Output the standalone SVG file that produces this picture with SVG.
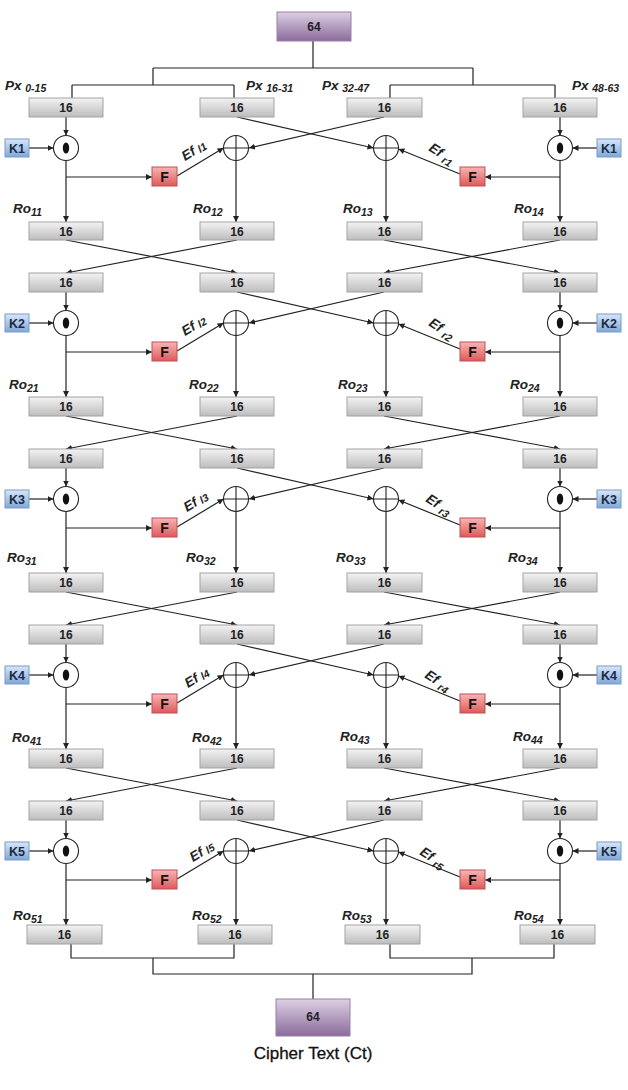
<svg xmlns="http://www.w3.org/2000/svg" width="628" height="1090" viewBox="0 0 628 1090">
<style>
.b16{fill:url(#g16);stroke:#a3a3a3;stroke-width:1}
.bp{fill:url(#gP);stroke:#9a80a8;stroke-width:1}
.bk{fill:url(#gK);stroke:#7a9cc8;stroke-width:1}
.bf{fill:url(#gF);stroke:#c05050;stroke-width:1}
.t16{font-family:"Liberation Sans",Arial,sans-serif;font-weight:bold;font-size:12px;fill:#222;text-anchor:middle}
.tk{font-family:"Liberation Sans",Arial,sans-serif;font-weight:bold;font-size:12.5px;fill:#1a2a44;text-anchor:middle}
.tf{font-family:"Liberation Sans",Arial,sans-serif;font-weight:bold;font-size:14px;fill:#111;text-anchor:middle}
.lb{font-family:"Liberation Sans",Arial,sans-serif;font-weight:bold;font-style:italic;font-size:13.5px;fill:#222}
.sb{font-size:10.5px}
.c{fill:#fff;stroke:#222;stroke-width:1.1}
.cr{stroke:#222;stroke-width:1.1;fill:none}
.ln{fill:none;stroke:#222;stroke-width:1.2}
.ar{fill:none;stroke:#222;stroke-width:1.2;marker-end:url(#ah)}
.ct{font-family:"Liberation Sans",Arial,sans-serif;font-size:17px;fill:#111;text-anchor:middle;stroke:#111;stroke-width:0.3}
</style>
<defs>
<linearGradient id="g16" x1="0" y1="0" x2="0" y2="1"><stop offset="0" stop-color="#f3f3f3"/><stop offset="1" stop-color="#bdbdbd"/></linearGradient>
<linearGradient id="gP" x1="0" y1="0" x2="0" y2="1"><stop offset="0" stop-color="#ddd0e4"/><stop offset="1" stop-color="#8b6b9b"/></linearGradient>
<linearGradient id="gK" x1="0" y1="0" x2="0" y2="1"><stop offset="0" stop-color="#d8e7f8"/><stop offset="1" stop-color="#7fa7d9"/></linearGradient>
<linearGradient id="gF" x1="0" y1="0" x2="0" y2="1"><stop offset="0" stop-color="#f9b4b4"/><stop offset="1" stop-color="#dc5a5a"/></linearGradient>
<marker id="ah" viewBox="0 0 10 10" refX="10" refY="5" markerWidth="6" markerHeight="6" markerUnits="userSpaceOnUse" orient="auto"><path d="M0,0 L10,5 L0,10 z" fill="#222"/></marker>
</defs>
<rect width="628" height="1090" fill="#fff"/>

<g id="connectors">
<path class="ln" d="M313 41V68M153 68H473M153 68V85M72 85H234M72 85V98M234 85V98M473 68V85M390 85H555M390 85V98M555 85V98"/>
<!-- round 1 -->
<path class="ar" d="M66 117V135.5"/><path class="ar" d="M29 148H53.5"/><path class="ar" d="M66 160.5V222"/><path class="ar" d="M66 177H152"/><path class="ar" d="M177 176L223.5 148"/>
<path class="ar" d="M237 117L373.5 148"/><path class="ar" d="M384 117L249 148"/><path class="ar" d="M236 160.5V222"/><path class="ar" d="M386 160.5V222"/>
<path class="ar" d="M560 117V135.5"/><path class="ar" d="M597 148H572.5"/><path class="ar" d="M560 160.5V222"/><path class="ar" d="M560 177H485"/><path class="ar" d="M460 174L398.5 149"/>
<path class="ar" d="M66 240L237 273"/><path class="ar" d="M237 240L66 273"/><path class="ar" d="M384 240L560 273"/><path class="ar" d="M560 240L384 273"/>
<!-- round 2 -->
<path class="ar" d="M66 292V310.5"/><path class="ar" d="M29 323H53.5"/><path class="ar" d="M66 335.5V397"/><path class="ar" d="M66 352H152"/><path class="ar" d="M177 351L223.5 323"/>
<path class="ar" d="M237 292L373.5 323"/><path class="ar" d="M384 292L249 323"/><path class="ar" d="M236 335.5V397"/><path class="ar" d="M386 335.5V397"/>
<path class="ar" d="M560 292V310.5"/><path class="ar" d="M597 323H572.5"/><path class="ar" d="M560 335.5V397"/><path class="ar" d="M560 352H485"/><path class="ar" d="M460 349L398.5 324"/>
<path class="ar" d="M66 416L237 449"/><path class="ar" d="M237 416L66 449"/><path class="ar" d="M384 416L560 449"/><path class="ar" d="M560 416L384 449"/>
<!-- round 3 -->
<path class="ar" d="M66 468V486.5"/><path class="ar" d="M29 499H53.5"/><path class="ar" d="M66 511.5V573"/><path class="ar" d="M66 528H152"/><path class="ar" d="M177 527L223.5 499"/>
<path class="ar" d="M237 468L373.5 499"/><path class="ar" d="M384 468L249 499"/><path class="ar" d="M236 511.5V573"/><path class="ar" d="M386 511.5V573"/>
<path class="ar" d="M560 468V486.5"/><path class="ar" d="M597 499H572.5"/><path class="ar" d="M560 511.5V573"/><path class="ar" d="M560 528H485"/><path class="ar" d="M460 525L398.5 500"/>
<path class="ar" d="M66 592L237 625"/><path class="ar" d="M237 592L66 625"/><path class="ar" d="M384 592L560 625"/><path class="ar" d="M560 592L384 625"/>
<!-- round 4 -->
<path class="ar" d="M66 644V662.5"/><path class="ar" d="M29 675H53.5"/><path class="ar" d="M66 687.5V749"/><path class="ar" d="M66 704H152"/><path class="ar" d="M177 703L223.5 675"/>
<path class="ar" d="M237 644L373.5 675"/><path class="ar" d="M384 644L249 675"/><path class="ar" d="M236 687.5V749"/><path class="ar" d="M386 687.5V749"/>
<path class="ar" d="M560 644V662.5"/><path class="ar" d="M597 675H572.5"/><path class="ar" d="M560 687.5V749"/><path class="ar" d="M560 704H485"/><path class="ar" d="M460 701L398.5 676"/>
<path class="ar" d="M66 768L237 801"/><path class="ar" d="M237 768L66 801"/><path class="ar" d="M384 768L560 801"/><path class="ar" d="M560 768L384 801"/>
<!-- round 5 -->
<path class="ar" d="M66 820V838.5"/><path class="ar" d="M29 851H53.5"/><path class="ar" d="M66 863.5V925"/><path class="ar" d="M66 880H152"/><path class="ar" d="M177 879L223.5 851"/>
<path class="ar" d="M237 820L373.5 851"/><path class="ar" d="M384 820L249 851"/><path class="ar" d="M236 863.5V925"/><path class="ar" d="M386 863.5V925"/>
<path class="ar" d="M560 820V838.5"/><path class="ar" d="M597 851H572.5"/><path class="ar" d="M560 863.5V925"/><path class="ar" d="M560 880H485"/><path class="ar" d="M460 877L398.5 852"/>
<path class="ln" d="M71 944V958H234V944M390 944V958H554V944M153 958V974H472V958M313 974V999"/>
</g>

<!-- top -->
<g id="plain64"><rect class="bp" x="277" y="12" width="74" height="29"/><text class="t16" x="314" y="30.5">64</text></g>
<g id="pxlabels">
<text class="lb" x="5" y="90">Px <tspan class="sb" dy="2">0-15</tspan></text>
<text class="lb" x="246" y="90">Px <tspan class="sb" dy="2">16-31</tspan></text>
<text class="lb" x="322" y="90">Px <tspan class="sb" dy="2">32-47</tspan></text>
<text class="lb" x="572" y="90">Px <tspan class="sb" dy="2">48-63</tspan></text>
</g>

<!-- ROUND 1 -->
<g id="r1in1"><rect class="b16" x="29" y="98" width="74" height="19"/><text class="t16" x="66" y="111.5">16</text></g>
<g id="r1in2"><rect class="b16" x="200" y="98" width="74" height="19"/><text class="t16" x="237" y="111.5">16</text></g>
<g id="r1in3"><rect class="b16" x="347" y="98" width="75" height="19"/><text class="t16" x="384.5" y="111.5">16</text></g>
<g id="r1in4"><rect class="b16" x="523" y="98" width="74" height="19"/><text class="t16" x="560" y="111.5">16</text></g>
<g id="r1k1"><rect class="bk" x="5" y="139" width="24" height="18"/><text class="tk" x="17" y="152.5">K1</text></g>
<g id="r1k2"><rect class="bk" x="597" y="139" width="24" height="18"/><text class="tk" x="609" y="152.5">K1</text></g>
<g id="r1m1"><circle class="c" cx="66" cy="148" r="12.5"/><ellipse cx="66" cy="148" rx="3.2" ry="5.5" fill="#111"/></g>
<g id="r1m2"><circle class="c" cx="560" cy="148" r="12.5"/><ellipse cx="560" cy="148" rx="3.2" ry="5.5" fill="#111"/></g>
<g id="r1x1"><circle class="c" cx="236" cy="148" r="12.5"/><path class="cr" d="M223.5 148H248.5M236 135.5V160.5"/></g>
<g id="r1x2"><circle class="c" cx="386" cy="148" r="12.5"/><path class="cr" d="M373.5 148H398.5M386 135.5V160.5"/></g>
<g id="r1f1"><rect class="bf" x="152" y="167" width="25" height="19"/><text class="tf" x="164.5" y="181.5">F</text></g>
<g id="r1f2"><rect class="bf" x="460" y="167" width="25" height="19"/><text class="tf" x="472.5" y="181.5">F</text></g>
<g id="r1ef"><text class="lb" transform="translate(185,161) rotate(-31)">Ef <tspan class="sb" dy="1">l1</tspan></text><text class="lb" transform="translate(428,150) rotate(33)">Ef <tspan class="sb" dy="3">r1</tspan></text></g>
<g id="r1ro"><text class="lb" x="13" y="213">Ro<tspan class="sb" dy="3">11</tspan></text><text class="lb" x="193" y="213">Ro<tspan class="sb" dy="3">12</tspan></text><text class="lb" x="343" y="213">Ro<tspan class="sb" dy="3">13</tspan></text><text class="lb" x="514" y="213">Ro<tspan class="sb" dy="3">14</tspan></text></g>
<g id="r1o1"><rect class="b16" x="29" y="222" width="74" height="18"/><text class="t16" x="66" y="235.5">16</text></g>
<g id="r1o2"><rect class="b16" x="200" y="222" width="74" height="18"/><text class="t16" x="237" y="235.5">16</text></g>
<g id="r1o3"><rect class="b16" x="347" y="222" width="75" height="18"/><text class="t16" x="384.5" y="235.5">16</text></g>
<g id="r1o4"><rect class="b16" x="523" y="222" width="74" height="18"/><text class="t16" x="560" y="235.5">16</text></g>

<!-- ROUND 2 -->
<g id="r2in1"><rect class="b16" x="29" y="273" width="74" height="19"/><text class="t16" x="66" y="286.5">16</text></g>
<g id="r2in2"><rect class="b16" x="200" y="273" width="74" height="19"/><text class="t16" x="237" y="286.5">16</text></g>
<g id="r2in3"><rect class="b16" x="347" y="273" width="75" height="19"/><text class="t16" x="384.5" y="286.5">16</text></g>
<g id="r2in4"><rect class="b16" x="523" y="273" width="74" height="19"/><text class="t16" x="560" y="286.5">16</text></g>
<g id="r2k1"><rect class="bk" x="5" y="314" width="24" height="18"/><text class="tk" x="17" y="327.5">K2</text></g>
<g id="r2k2"><rect class="bk" x="597" y="314" width="24" height="18"/><text class="tk" x="609" y="327.5">K2</text></g>
<g id="r2m1"><circle class="c" cx="66" cy="323" r="12.5"/><ellipse cx="66" cy="323" rx="3.2" ry="5.5" fill="#111"/></g>
<g id="r2m2"><circle class="c" cx="560" cy="323" r="12.5"/><ellipse cx="560" cy="323" rx="3.2" ry="5.5" fill="#111"/></g>
<g id="r2x1"><circle class="c" cx="236" cy="323" r="12.5"/><path class="cr" d="M223.5 323H248.5M236 310.5V335.5"/></g>
<g id="r2x2"><circle class="c" cx="386" cy="323" r="12.5"/><path class="cr" d="M373.5 323H398.5M386 310.5V335.5"/></g>
<g id="r2f1"><rect class="bf" x="152" y="342" width="25" height="19"/><text class="tf" x="164.5" y="356.5">F</text></g>
<g id="r2f2"><rect class="bf" x="460" y="342" width="25" height="19"/><text class="tf" x="472.5" y="356.5">F</text></g>
<g id="r2ef"><text class="lb" transform="translate(185,336) rotate(-31)">Ef <tspan class="sb" dy="1">l2</tspan></text><text class="lb" transform="translate(428,325) rotate(33)">Ef <tspan class="sb" dy="3">r2</tspan></text></g>
<g id="r2ro"><text class="lb" x="9" y="389">Ro<tspan class="sb" dy="3">21</tspan></text><text class="lb" x="189" y="389">Ro<tspan class="sb" dy="3">22</tspan></text><text class="lb" x="338" y="389">Ro<tspan class="sb" dy="3">23</tspan></text><text class="lb" x="510" y="389">Ro<tspan class="sb" dy="3">24</tspan></text></g>
<g id="r2o1"><rect class="b16" x="29" y="397" width="74" height="19"/><text class="t16" x="66" y="410.5">16</text></g>
<g id="r2o2"><rect class="b16" x="200" y="397" width="74" height="19"/><text class="t16" x="237" y="410.5">16</text></g>
<g id="r2o3"><rect class="b16" x="347" y="397" width="75" height="19"/><text class="t16" x="384.5" y="410.5">16</text></g>
<g id="r2o4"><rect class="b16" x="523" y="397" width="74" height="19"/><text class="t16" x="560" y="410.5">16</text></g>

<!-- ROUND 3 -->
<g id="r3in1"><rect class="b16" x="29" y="449" width="74" height="19"/><text class="t16" x="66" y="462.5">16</text></g>
<g id="r3in2"><rect class="b16" x="200" y="449" width="74" height="19"/><text class="t16" x="237" y="462.5">16</text></g>
<g id="r3in3"><rect class="b16" x="347" y="449" width="75" height="19"/><text class="t16" x="384.5" y="462.5">16</text></g>
<g id="r3in4"><rect class="b16" x="523" y="449" width="74" height="19"/><text class="t16" x="560" y="462.5">16</text></g>
<g id="r3k1"><rect class="bk" x="5" y="490" width="24" height="18"/><text class="tk" x="17" y="503.5">K3</text></g>
<g id="r3k2"><rect class="bk" x="597" y="490" width="24" height="18"/><text class="tk" x="609" y="503.5">K3</text></g>
<g id="r3m1"><circle class="c" cx="66" cy="499" r="12.5"/><ellipse cx="66" cy="499" rx="3.2" ry="5.5" fill="#111"/></g>
<g id="r3m2"><circle class="c" cx="560" cy="499" r="12.5"/><ellipse cx="560" cy="499" rx="3.2" ry="5.5" fill="#111"/></g>
<g id="r3x1"><circle class="c" cx="236" cy="499" r="12.5"/><path class="cr" d="M223.5 499H248.5M236 486.5V511.5"/></g>
<g id="r3x2"><circle class="c" cx="386" cy="499" r="12.5"/><path class="cr" d="M373.5 499H398.5M386 486.5V511.5"/></g>
<g id="r3f1"><rect class="bf" x="152" y="518" width="25" height="19"/><text class="tf" x="164.5" y="532.5">F</text></g>
<g id="r3f2"><rect class="bf" x="460" y="518" width="25" height="19"/><text class="tf" x="472.5" y="532.5">F</text></g>
<g id="r3ef"><text class="lb" transform="translate(187,512) rotate(-31)">Ef <tspan class="sb" dy="1">l3</tspan></text><text class="lb" transform="translate(425,501) rotate(33)">Ef <tspan class="sb" dy="3">r3</tspan></text></g>
<g id="r3ro"><text class="lb" x="7" y="562">Ro<tspan class="sb" dy="3">31</tspan></text><text class="lb" x="186" y="562">Ro<tspan class="sb" dy="3">32</tspan></text><text class="lb" x="336" y="562">Ro<tspan class="sb" dy="3">33</tspan></text><text class="lb" x="508" y="562">Ro<tspan class="sb" dy="3">34</tspan></text></g>
<g id="r3o1"><rect class="b16" x="29" y="573" width="74" height="19"/><text class="t16" x="66" y="586.5">16</text></g>
<g id="r3o2"><rect class="b16" x="200" y="573" width="74" height="19"/><text class="t16" x="237" y="586.5">16</text></g>
<g id="r3o3"><rect class="b16" x="347" y="573" width="75" height="19"/><text class="t16" x="384.5" y="586.5">16</text></g>
<g id="r3o4"><rect class="b16" x="523" y="573" width="74" height="19"/><text class="t16" x="560" y="586.5">16</text></g>

<!-- ROUND 4 -->
<g id="r4in1"><rect class="b16" x="29" y="625" width="74" height="19"/><text class="t16" x="66" y="638.5">16</text></g>
<g id="r4in2"><rect class="b16" x="200" y="625" width="74" height="19"/><text class="t16" x="237" y="638.5">16</text></g>
<g id="r4in3"><rect class="b16" x="347" y="625" width="75" height="19"/><text class="t16" x="384.5" y="638.5">16</text></g>
<g id="r4in4"><rect class="b16" x="523" y="625" width="74" height="19"/><text class="t16" x="560" y="638.5">16</text></g>
<g id="r4k1"><rect class="bk" x="5" y="666" width="24" height="18"/><text class="tk" x="17" y="679.5">K4</text></g>
<g id="r4k2"><rect class="bk" x="597" y="666" width="24" height="18"/><text class="tk" x="609" y="679.5">K4</text></g>
<g id="r4m1"><circle class="c" cx="66" cy="675" r="12.5"/><ellipse cx="66" cy="675" rx="3.2" ry="5.5" fill="#111"/></g>
<g id="r4m2"><circle class="c" cx="560" cy="675" r="12.5"/><ellipse cx="560" cy="675" rx="3.2" ry="5.5" fill="#111"/></g>
<g id="r4x1"><circle class="c" cx="236" cy="675" r="12.5"/><path class="cr" d="M223.5 675H248.5M236 662.5V687.5"/></g>
<g id="r4x2"><circle class="c" cx="386" cy="675" r="12.5"/><path class="cr" d="M373.5 675H398.5M386 662.5V687.5"/></g>
<g id="r4f1"><rect class="bf" x="152" y="694" width="25" height="19"/><text class="tf" x="164.5" y="708.5">F</text></g>
<g id="r4f2"><rect class="bf" x="460" y="694" width="25" height="19"/><text class="tf" x="472.5" y="708.5">F</text></g>
<g id="r4ef"><text class="lb" transform="translate(188,688) rotate(-31)">Ef <tspan class="sb" dy="1">l4</tspan></text><text class="lb" transform="translate(424,677) rotate(33)">Ef <tspan class="sb" dy="3">r4</tspan></text></g>
<g id="r4ro"><text class="lb" x="12" y="742">Ro<tspan class="sb" dy="3">41</tspan></text><text class="lb" x="192" y="742">Ro<tspan class="sb" dy="3">42</tspan></text><text class="lb" x="340" y="741">Ro<tspan class="sb" dy="3">43</tspan></text><text class="lb" x="513" y="741">Ro<tspan class="sb" dy="3">44</tspan></text></g>
<g id="r4o1"><rect class="b16" x="29" y="749" width="74" height="19"/><text class="t16" x="66" y="762.5">16</text></g>
<g id="r4o2"><rect class="b16" x="200" y="749" width="74" height="19"/><text class="t16" x="237" y="762.5">16</text></g>
<g id="r4o3"><rect class="b16" x="347" y="749" width="75" height="19"/><text class="t16" x="384.5" y="762.5">16</text></g>
<g id="r4o4"><rect class="b16" x="523" y="749" width="74" height="19"/><text class="t16" x="560" y="762.5">16</text></g>

<!-- ROUND 5 -->
<g id="r5in1"><rect class="b16" x="29" y="801" width="74" height="19"/><text class="t16" x="66" y="814.5">16</text></g>
<g id="r5in2"><rect class="b16" x="200" y="801" width="74" height="19"/><text class="t16" x="237" y="814.5">16</text></g>
<g id="r5in3"><rect class="b16" x="347" y="801" width="75" height="19"/><text class="t16" x="384.5" y="814.5">16</text></g>
<g id="r5in4"><rect class="b16" x="523" y="801" width="74" height="19"/><text class="t16" x="560" y="814.5">16</text></g>
<g id="r5k1"><rect class="bk" x="5" y="842" width="24" height="18"/><text class="tk" x="17" y="855.5">K5</text></g>
<g id="r5k2"><rect class="bk" x="597" y="842" width="24" height="18"/><text class="tk" x="609" y="855.5">K5</text></g>
<g id="r5m1"><circle class="c" cx="66" cy="851" r="12.5"/><ellipse cx="66" cy="851" rx="3.2" ry="5.5" fill="#111"/></g>
<g id="r5m2"><circle class="c" cx="560" cy="851" r="12.5"/><ellipse cx="560" cy="851" rx="3.2" ry="5.5" fill="#111"/></g>
<g id="r5x1"><circle class="c" cx="236" cy="851" r="12.5"/><path class="cr" d="M223.5 851H248.5M236 838.5V863.5"/></g>
<g id="r5x2"><circle class="c" cx="386" cy="851" r="12.5"/><path class="cr" d="M373.5 851H398.5M386 838.5V863.5"/></g>
<g id="r5f1"><rect class="bf" x="152" y="870" width="25" height="19"/><text class="tf" x="164.5" y="884.5">F</text></g>
<g id="r5f2"><rect class="bf" x="460" y="870" width="25" height="19"/><text class="tf" x="472.5" y="884.5">F</text></g>
<g id="r5ef"><text class="lb" transform="translate(193,862) rotate(-31)">Ef <tspan class="sb" dy="1">l5</tspan></text><text class="lb" transform="translate(419,854) rotate(33)">Ef <tspan class="sb" dy="3">r5</tspan></text></g>
<g id="r5ro"><text class="lb" x="13" y="920">Ro<tspan class="sb" dy="3">51</tspan></text><text class="lb" x="192" y="920">Ro<tspan class="sb" dy="3">52</tspan></text><text class="lb" x="342" y="920">Ro<tspan class="sb" dy="3">53</tspan></text><text class="lb" x="514" y="920">Ro<tspan class="sb" dy="3">54</tspan></text></g>
<g id="r5o1"><rect class="b16" x="27" y="925" width="75" height="19"/><text class="t16" x="64.5" y="938.5">16</text></g>
<g id="r5o2"><rect class="b16" x="198" y="925" width="74" height="19"/><text class="t16" x="235" y="938.5">16</text></g>
<g id="r5o3"><rect class="b16" x="345" y="925" width="75" height="19"/><text class="t16" x="382.5" y="938.5">16</text></g>
<g id="r5o4"><rect class="b16" x="520" y="925" width="75" height="19"/><text class="t16" x="557.5" y="938.5">16</text></g>

<!-- bottom -->
<g id="cipher64"><rect class="bp" x="276" y="999" width="74" height="37"/><text class="t16" x="313" y="1021">64</text></g>
<g id="cipherlabel"><text class="ct" x="313" y="1059">Cipher Text (Ct)</text></g>
</svg>
